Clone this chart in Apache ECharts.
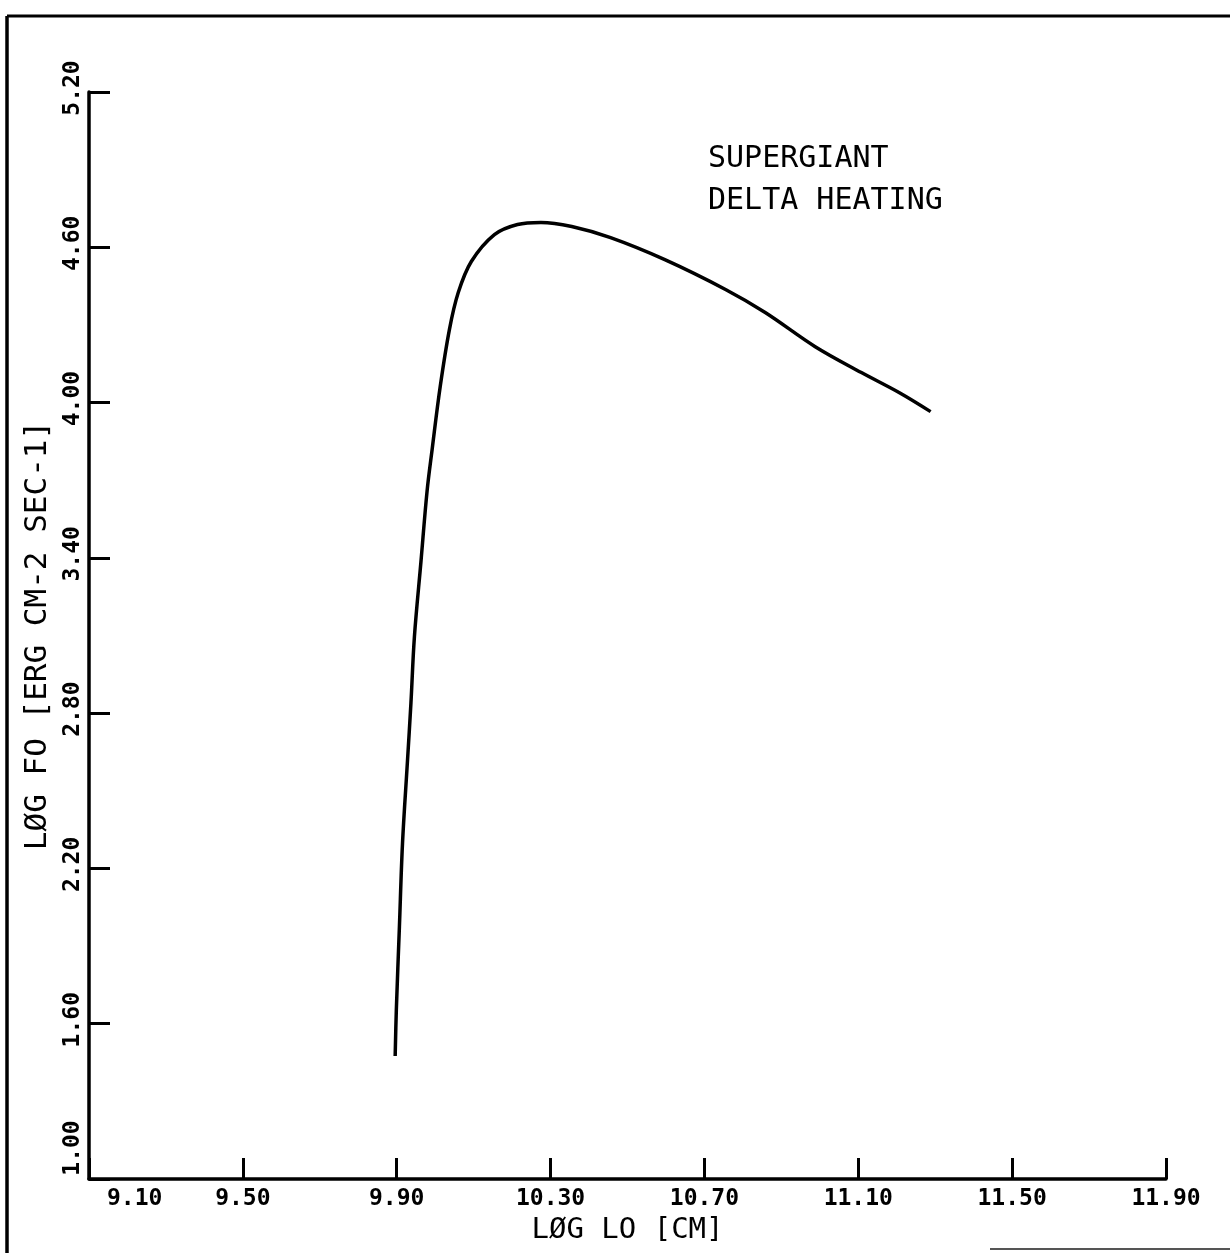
<!DOCTYPE html>
<html>
<head>
<meta charset="utf-8">
<title>Supergiant delta heating</title>
<script src="https://cdn.jsdelivr.net/npm/echarts@6/dist/echarts.min.js"></script>
<style>
  html, body { margin: 0; padding: 0; background: #fff; }
  #chart { width: 1230px; height: 1253px; }
</style>
</head>
<body>
<div id="chart"></div>
<script>
// curve (log L0, log F0)
var logL0 = [9.896, 9.899, 9.907, 9.915, 9.928, 9.937, 9.946, 9.963, 9.979, 9.992,
  10.013, 10.037, 10.060, 10.094, 10.154, 10.214, 10.275, 10.355, 10.456, 10.597,
  10.756, 10.858, 10.988, 11.108, 11.207, 11.288];
var logF0 = [1.475, 1.653, 1.974, 2.295, 2.616, 2.840, 3.095, 3.385, 3.659, 3.818,
  4.061, 4.282, 4.425, 4.545, 4.649, 4.688, 4.696, 4.680, 4.637, 4.552,
  4.436, 4.348, 4.216, 4.116, 4.038, 3.965];

var xTicks = [9.10, 9.50, 9.90, 10.30, 10.70, 11.10, 11.50, 11.90];
var yTicks = [1.00, 1.60, 2.20, 2.80, 3.40, 4.00, 4.60, 5.20];

var xName = "LØG LO [CM]";
var yName = "LØG FO [ERG CM-2 SEC-1]";
var noteLines = ["SUPERGIANT", "DELTA HEATING"];

var font = "DejaVu Sans Mono";

var points = logL0.map(function (x, i) { return [x, logF0[i]]; });

var tickLabel = { fontFamily: font, fontSize: 23, fontWeight: "bold", color: "#000" };

var chart = echarts.init(document.getElementById("chart"));
chart.setOption({
  animation: false,
  backgroundColor: "#fff",
  grid: { left: 89, right: 64, top: 92, bottom: 74 },
  xAxis: {
    type: "value",
    min: xTicks[0],
    max: xTicks[xTicks.length - 1],
    interval: 0.4,
    name: xName,
    nameLocation: "middle",
    nameGap: 34,
    nameTextStyle: { fontFamily: font, fontSize: 29, color: "#000" },
    axisLine: { lineStyle: { color: "#000", width: 3.5 } },
    axisTick: { inside: true, length: 21, lineStyle: { color: "#000", width: 3 } },
    splitLine: { show: false },
    axisLabel: {
      margin: 9,
      fontFamily: font,
      fontSize: 23,
      fontWeight: "bold",
      color: "#000",
      alignMinLabel: "left",
      formatter: function (v) {
        var s = v.toFixed(2);
        return v === xTicks[0] ? "{first|" + s + "}" : "{n|" + s + "}";
      },
      rich: {
        first: Object.assign({ padding: [0, 0, 0, 18] }, tickLabel),
        n: tickLabel
      }
    }
  },
  yAxis: {
    type: "value",
    min: yTicks[0],
    max: yTicks[yTicks.length - 1],
    interval: 0.6,
    name: yName,
    nameLocation: "middle",
    nameRotate: 90,
    nameGap: 36,
    nameTextStyle: { fontFamily: font, fontSize: 31, color: "#000" },
    axisLine: { lineStyle: { color: "#000", width: 3.5 } },
    axisTick: { inside: true, length: 21, lineStyle: { color: "#000", width: 3 } },
    splitLine: { show: false },
    axisLabel: {
      rotate: 90,
      margin: 4,
      fontFamily: font,
      fontSize: 23,
      fontWeight: "bold",
      color: "#000",
      formatter: function (v) {
        var s = v.toFixed(2);
        return v === yTicks[0] ? "{first|" + s + "}" : "{n|" + s + "}";
      },
      rich: {
        first: Object.assign({ padding: [0, 0, 0, 62] }, tickLabel),
        n: Object.assign({ padding: [0, 0, 0, 8] }, tickLabel)
      }
    }
  },
  series: [
    {
      type: "line",
      data: points,
      smooth: 0.35,
      showSymbol: false,
      lineStyle: { color: "#000", width: 3.5 }
    }
  ],
  graphic: [
    // scanned page border
    { type: "line", shape: { x1: 7, y1: 16, x2: 1230, y2: 16 }, style: { stroke: "#000", lineWidth: 3 } },
    { type: "line", shape: { x1: 7, y1: 16, x2: 7, y2: 1253 }, style: { stroke: "#000", lineWidth: 3.5 } },
    { type: "line", shape: { x1: 990, y1: 1249, x2: 1230, y2: 1249 }, style: { stroke: "#555", lineWidth: 2 } },
    {
      type: "text",
      left: 708,
      top: 138,
      style: {
        text: noteLines.join("\n"),
        font: "30px " + font,
        lineHeight: 42,
        fill: "#000"
      }
    }
  ]
});
</script>
</body>
</html>
